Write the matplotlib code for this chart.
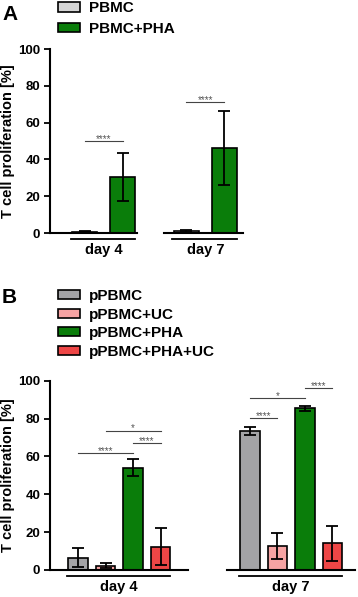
import matplotlib.pyplot as plt
from matplotlib.patches import Patch

plt.rcParams['font.family'] = ['Liberation Sans', 'DejaVu Sans']
plt.rcParams['font.weight'] = 'bold'
plt.rcParams['axes.labelweight'] = 'bold'

days = ["day 4", "day 7"]

# panel A
groups_a = ["PBMC", "PBMC+PHA"]
mean_a = [[0.7, 30.5], [1.0, 46.3]]
err_a = [[0.3, 13.1], [0.4, 20.2]]
colors_a = ["#d4d4d4", "#0a7d0a"]
# (day, bar i, bar j, height, label)
sig_a = [(0, 0, 1, 49.8, "****"), (1, 0, 1, 71.2, "****")]

# panel B
groups_b = ["pPBMC", "pPBMC+UC", "pPBMC+PHA", "pPBMC+PHA+UC"]
mean_b = [[6.6, 2.3, 54.1, 12.3], [73.4, 12.7, 85.4, 14.0]]
err_b = [[4.8, 1.5, 4.5, 9.8], [2.3, 6.9, 1.2, 9.0]]
colors_b = ["#a3a3a6", "#f6a3a3", "#0a7d0a", "#ee4646"]
sig_b = [(0, 0, 2, 61.6, "****"), (0, 1, 3, 73.6, "*"), (0, 2, 3, 66.9, "****"),
         (1, 0, 1, 80.1, "****"), (1, 0, 2, 90.7, "*"), (1, 2, 3, 96.0, "****")]


def draw_panel(ax, groups, means, errs, colors, sigs, step, width, group_gap,
               xlim, segs, axh_px):
    pos = []
    for d in range(len(days)):
        start = d * group_gap
        xs = [start + i * step for i in range(len(groups))]
        pos.append(xs)
        ax.bar(xs, means[d], width=width, color=colors, edgecolor="black",
               linewidth=1.2, zorder=2)
        ax.errorbar(xs, means[d], yerr=errs[d], fmt="none", ecolor="black",
                    elinewidth=1.3, capsize=4, capthick=1.3, zorder=3)
    for d, i, j, h, lab in sigs:
        ax.plot([pos[d][i], pos[d][j]], [h, h], color="#444444", lw=0.8)
        ax.text((pos[d][i] + pos[d][j]) / 2, h - 1.5, lab, ha="center",
                va="bottom", fontsize=7, color="#555555", fontweight="normal")
    ax.set_xlim(*xlim)
    ax.set_ylim(0, 100)
    ax.set_yticks([0, 20, 40, 60, 80, 100])
    ax.set_yticklabels([0, 20, 40, 60, 80, 100], fontsize=9.5, fontweight="bold")
    ax.tick_params(axis="y", width=1.3, length=4, pad=3)
    for s in ["top", "right", "bottom"]:
        ax.spines[s].set_visible(False)
    ax.spines["left"].set_linewidth(1.5)
    # broken baseline, one piece per day
    for d in range(len(days)):
        lo = xlim[0] if d == 0 else pos[d][0] + segs[d][0]
        hi = pos[d][-1] + segs[d][1]
        ax.plot([lo, hi], [0, 0], color="black", lw=1.5, clip_on=False)
        ax.plot([pos[d][0] - width / 2 - 0.05, pos[d][-1] + width / 2],
                [-6 / axh_px, -6 / axh_px], color="black", lw=1.3,
                transform=ax.get_xaxis_transform(), clip_on=False)
    ax.set_xticks([(p[0] + p[-1]) / 2 for p in pos])
    ax.set_xticklabels(days, fontsize=10.5, fontweight="bold")
    ax.tick_params(axis="x", length=0, pad=7)
    ax.set_ylabel("T cell proliferation [%]", fontsize=10.5, fontweight="bold",
                  labelpad=2)


fig = plt.figure(figsize=(3.58, 5.97), dpi=100)

ax_a = fig.add_axes([50 / 358, 364 / 597, 207 / 358, 184 / 597])
draw_panel(ax_a, groups_a, mean_a, err_a, colors_a, sig_a, step=1.0,
           width=0.66, group_gap=2.67, xlim=(-0.92, 4.53),
           segs=[(0, 0.37), (-0.6, 0.5)], axh_px=184)

ax_b = fig.add_axes([50 / 358, 27 / 597, 305 / 358, 189.3 / 597])
draw_panel(ax_b, groups_b, mean_b, err_b, colors_b, sig_b, step=1.0,
           width=0.7, group_gap=6.25, xlim=(-1.02, 10.07),
           segs=[(0, 1.0), (-0.83, 0.82)], axh_px=189)

h_a = [Patch(facecolor=c, edgecolor="black", linewidth=1.2) for c in colors_a]
fig.legend(h_a, groups_a, loc="upper left", bbox_to_anchor=(52 / 358, 1.008),
           frameon=False, fontsize=11, handlelength=1.4, handleheight=0.55,
           handletextpad=0.65, labelspacing=0.45, borderaxespad=0)
h_b = [Patch(facecolor=c, edgecolor="black", linewidth=1.2) for c in colors_b]
fig.legend(h_b, groups_b, loc="upper left", bbox_to_anchor=(52 / 358, 1 - 283 / 597),
           frameon=False, fontsize=11, handlelength=1.4, handleheight=0.55,
           handletextpad=0.65, labelspacing=0.3, borderaxespad=0)

fig.text(2 / 358, 1 - 20 / 597, "A", fontsize=15, fontweight="bold")
fig.text(2 / 358, 1 - 303 / 597, "B", fontsize=15, fontweight="bold")

fig.savefig("out.png", dpi=100)
